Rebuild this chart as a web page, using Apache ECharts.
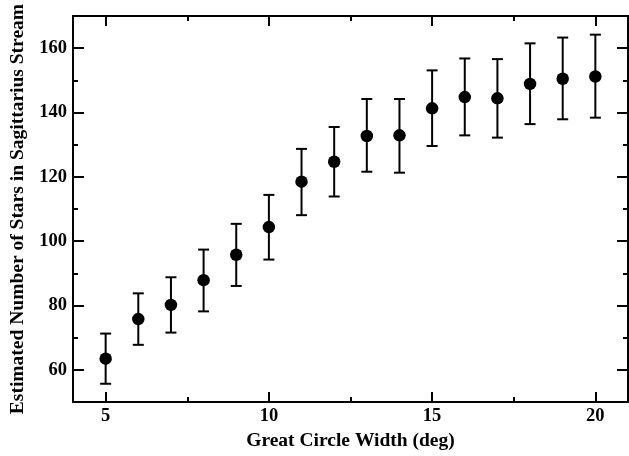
<!DOCTYPE html>
<html>
<head>
<meta charset="utf-8">
<script src="https://cdn.jsdelivr.net/npm/echarts@6/dist/echarts.min.js"></script>
<style>
html,body{margin:0;padding:0;background:#fff;}
#chart{width:629px;height:456px;}
</style>
</head>
<body>
<div id="chart"></div>
<script>
var widths = [5, 6, 7, 8, 9, 10, 11, 12, 13, 14, 15, 16, 17, 18, 19, 20];
var stars = [63.5, 75.8, 80.2, 87.9, 95.8, 104.4, 118.5, 124.7, 132.7, 132.9, 141.3, 144.8, 144.4, 148.9, 150.5, 151.2];
var lowerErr = [55.7, 67.8, 71.6, 78.2, 86.1, 94.3, 108.1, 113.9, 121.6, 121.3, 129.6, 132.9, 132.2, 136.4, 137.9, 138.4];
var upperErr = [71.3, 83.8, 88.8, 97.4, 105.4, 114.4, 128.7, 135.5, 144.2, 144.2, 153.1, 156.8, 156.6, 161.5, 163.3, 164.2];
var xMajorTicks = [5, 10, 15, 20];
var xMinorTicks = [7.5, 12.5, 17.5];
var yMajorTicks = [60, 80, 100, 120, 140, 160];
var yMinorTicks = [70, 90, 110, 130, 150];
var xTitle = 'Great Circle Width (deg)';
var yTitle = 'Estimated Number of Stars in Sagittarius Stream';

var FONT = 'Liberation Serif';
var labelStyle = {color: '#000', fontFamily: FONT, fontWeight: 'bold', fontSize: 18.5};
var titleStyle = {color: '#000', fontFamily: FONT, fontWeight: 'bold', fontSize: 19.5};

function mkAxis(kind, pos, ticks, len, showLine, labels, extra) {
  var ax = {
    type: 'value',
    position: pos,
    min: kind === 'x' ? 4 : 50,
    max: kind === 'x' ? 21 : 170,
    splitLine: {show: false},
    axisLine: {show: showLine, onZero: false, lineStyle: {color: '#000', width: 2}},
    axisTick: {show: true, inside: true, length: len, customValues: ticks, lineStyle: {color: '#000', width: 2}},
    axisLabel: labels ? Object.assign({show: true, customValues: labels, margin: kind === 'x' ? 5 : 6}, labelStyle) : {show: false}
  };
  return Object.assign(ax, extra || {});
}

var errData = widths.map(function (w, i) { return [w, lowerErr[i], upperErr[i]]; });
var ptData = widths.map(function (w, i) { return [w, stars[i]]; });

var chart = echarts.init(document.getElementById('chart'), null, {renderer: 'canvas'});
chart.setOption({
  animation: false,
  backgroundColor: '#fff',
  grid: {left: 71, right: 1, top: 16, bottom: 49, containLabel: false},
  xAxis: [
    mkAxis('x', 'bottom', xMajorTicks, 10, true, xMajorTicks, {
      name: xTitle, nameLocation: 'middle', nameGap: 27,
      nameTextStyle: titleStyle
    }),
    mkAxis('x', 'bottom', xMinorTicks, 5, false, null),
    mkAxis('x', 'top', xMajorTicks, 10, true, null),
    mkAxis('x', 'top', xMinorTicks, 5, false, null)
  ],
  yAxis: [
    mkAxis('y', 'left', yMajorTicks, 11, true, yMajorTicks, {
      name: yTitle, nameLocation: 'middle', nameGap: 45,
      nameTextStyle: titleStyle
    }),
    mkAxis('y', 'left', yMinorTicks, 5, false, null),
    mkAxis('y', 'right', yMajorTicks, 11, true, null),
    mkAxis('y', 'right', yMinorTicks, 5, false, null)
  ],
  series: [
    {
      type: 'custom',
      xAxisIndex: 0, yAxisIndex: 0,
      data: errData,
      renderItem: function (params, api) {
        var x = api.value(0);
        var lo = api.coord([x, api.value(1)]);
        var hi = api.coord([x, api.value(2)]);
        var hw = 5.5;
        var st = {stroke: '#000', lineWidth: 2};
        return {
          type: 'group',
          children: [
            {type: 'line', shape: {x1: lo[0], y1: lo[1], x2: hi[0], y2: hi[1]}, style: st},
            {type: 'line', shape: {x1: lo[0] - hw, y1: lo[1], x2: lo[0] + hw, y2: lo[1]}, style: st},
            {type: 'line', shape: {x1: hi[0] - hw, y1: hi[1], x2: hi[0] + hw, y2: hi[1]}, style: st}
          ]
        };
      },
      z: 2
    },
    {
      type: 'scatter',
      xAxisIndex: 0, yAxisIndex: 0,
      data: ptData,
      symbol: 'circle',
      symbolSize: 12.5,
      itemStyle: {color: '#000', opacity: 1},
      z: 3
    }
  ]
});
</script>
</body>
</html>
